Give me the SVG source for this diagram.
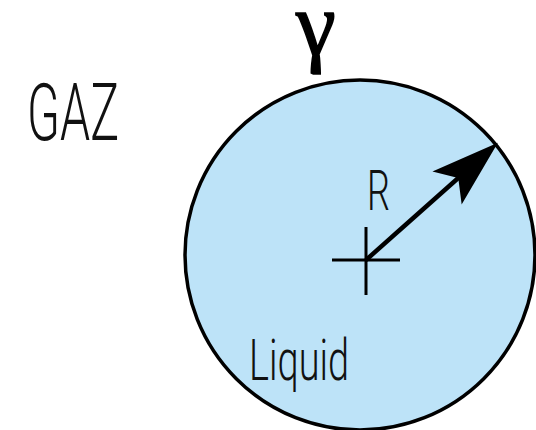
<svg xmlns="http://www.w3.org/2000/svg" width="536" height="430" viewBox="0 0 536 430">
<defs>
<style>
.lbl{font-family:Roboto,"Liberation Sans","DejaVu Sans",sans-serif;font-weight:300;fill:#111}
.cross{stroke:#000;stroke-width:3;fill:none}
</style>
<marker id="ah" viewBox="-70 -24 72 48" refX="-50" refY="0" markerWidth="72" markerHeight="48" markerUnits="userSpaceOnUse" orient="auto">
<path d="M0,0 L-68,-22 L-53,0 L-68,22 Z" fill="#000"/>
</marker>
</defs>
<rect width="536" height="430" fill="#fff"/>
<g id="droplet">
<circle cx="360" cy="255" r="175" fill="#bde3f8" stroke="#000" stroke-width="3.5"/>
</g>
<g id="center">
<line class="cross" x1="332" y1="260" x2="400" y2="260"/>
<line class="cross" x1="366" y1="227" x2="366" y2="295"/>
</g>
<g id="connectors">
<line x1="366" y1="260" x2="460.5" y2="176" stroke="#000" stroke-width="4.5" marker-end="url(#ah)"/>
</g>
<g id="label-gamma">
<text x="296" y="55" font-family="Liberation Serif,serif" font-size="90" fill="#000" stroke="#000" stroke-width="1.5">γ</text>
</g>
<g id="label-gaz">
<text class="lbl" x="27" y="140" font-size="80" textLength="92" lengthAdjust="spacingAndGlyphs">GAZ</text>
</g>
<g id="label-r">
<text class="lbl" x="367" y="210" font-size="56" textLength="23" lengthAdjust="spacingAndGlyphs">R</text>
</g>
<g id="label-liquid">
<text class="lbl" x="249" y="380" font-size="58" textLength="100" lengthAdjust="spacingAndGlyphs">Liquid</text>
</g>
</svg>
